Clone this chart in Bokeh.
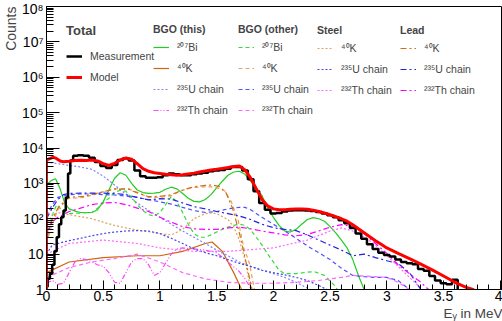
import numpy as np
from bokeh.plotting import figure
from bokeh.models import FixedTicker, NumeralTickFormatter, Legend, LegendItem, Title, Range1d
from bokeh.embed import file_html
from bokeh.resources import INLINE

# ---------------- data ----------------
meas_e = [0.00, 0.02, 0.04, 0.06, 0.08, 0.10, 0.12, 0.14, 0.16, 0.18, 0.20, 0.22, 0.25, 0.30, 0.35, 0.40,
          0.45, 0.50, 0.55, 0.60, 0.65, 0.70, 0.75, 0.80, 0.85, 0.90, 0.95, 1.00, 1.05, 1.10, 1.15, 1.20,
          1.25, 1.30, 1.35, 1.40, 1.45, 1.50, 1.55, 1.60, 1.65, 1.70, 1.75, 1.80, 1.85, 1.90, 1.95, 2.00,
          2.05, 2.10, 2.15, 2.20, 2.25, 2.30, 2.35, 2.40, 2.45, 2.50, 2.55, 2.60, 2.65, 2.70, 2.75, 2.80,
          2.85, 2.90, 2.95, 3.00, 3.05, 3.10, 3.15, 3.20, 3.25, 3.30, 3.35, 3.40, 3.45, 3.50, 3.55, 3.60,
          3.65, 3.70]
meas_c = [1.2, 2.0, 2.8, 5, 12, 30, 70, 110, 170, 400, 1900, 4400, 6000, 6200, 6000, 5300,
          4000, 3100, 2700, 3300, 4600, 5100, 4400, 2300, 1600, 1450, 1450, 1500, 1700, 1900, 1800, 1700,
          1700, 1800, 1900, 2000, 2200, 2300, 2400, 2600, 2900, 2900, 2300, 1300, 600, 280, 180, 140,
          145, 160, 170, 175, 175, 170, 165, 155, 140, 125, 110, 90, 75, 55, 38, 27,
          19, 14, 11, 9.5, 8.5, 7, 6, 5.5, 5.2, 3.8, 3.4, 2.4, 1.8, 1.5, 1.4, 1.9,
          0.5, 0.3]

model_e = [0.00, 0.00, 0.03, 0.06, 0.09, 0.12, 0.15, 0.20, 0.25, 0.30, 0.35, 0.40, 0.45, 0.50, 0.55, 0.60,
           0.65, 0.70, 0.75, 0.80, 0.85, 0.90, 0.95, 1.00, 1.05, 1.10, 1.15, 1.20, 1.25, 1.30, 1.35, 1.40,
           1.45, 1.50, 1.55, 1.60, 1.65, 1.70, 1.75, 1.80, 1.85, 1.90, 1.95, 2.00, 2.05, 2.10, 2.15, 2.20,
           2.25, 2.30, 2.35, 2.40, 2.45, 2.50, 2.55, 2.60, 2.65, 2.70, 2.75, 2.80, 2.85, 2.90, 2.95, 3.00,
           3.10, 3.20, 3.30, 3.40, 3.50, 3.60, 3.70, 3.76, 3.80]
model_c = [0.01, 4600, 5000, 5500, 5000, 4300, 4100, 4200, 4400, 4500, 4400, 4600, 4300, 3600, 3200, 3700,
           4600, 5200, 4800, 3600, 2600, 2200, 2000, 1900, 1800, 1750, 1700, 1750, 1850, 1950, 2100, 2250,
           2400, 2500, 2650, 2800, 3000, 3100, 2400, 1400, 700, 350, 230, 190, 180, 180, 185, 190,
           190, 185, 175, 160, 145, 130, 115, 100, 85, 68, 52, 40, 31, 24, 19, 15,
           10.5, 7.5, 5.2, 3.6, 2.4, 1.6, 1.15, 1.0, 0.8]

# BGO (this)
bgo_this_bi_e = [0.00, 0.04, 0.08, 0.12, 0.16, 0.20, 0.25, 0.30, 0.35, 0.40, 0.45, 0.50, 0.55, 0.60, 0.65, 0.70,
                 0.75, 0.80, 0.85, 0.90, 0.95, 1.00, 1.05, 1.10, 1.15, 1.20, 1.25, 1.30, 1.35, 1.40, 1.45, 1.50,
                 1.55, 1.60, 1.65, 1.70, 1.75, 1.80, 1.85, 1.90, 1.95, 2.00, 2.05, 2.10, 2.15, 2.20, 2.25, 2.30,
                 2.35, 2.40, 2.45, 2.50, 2.55, 2.60, 2.65, 2.70, 2.75, 2.80, 2.85]
bgo_this_bi_c = [900, 1200, 1350, 700, 280, 190, 165, 150, 150, 150, 180, 300, 650, 1400, 2000, 1700,
                 1000, 650, 550, 520, 530, 560, 680, 780, 700, 520, 380, 310, 300, 350, 480, 750,
                 1150, 1700, 2100, 2200, 1800, 1150, 700, 450, 200, 110, 65, 45, 42, 50, 70, 95,
                 108, 100, 85, 60, 40, 25, 15, 7, 2.5, 1.0, 0.4]

bgo_this_k_e = [0.00, 0.20, 0.50, 0.80, 1.00, 1.20, 1.40, 1.46, 1.55, 1.65, 1.72, 1.78]
bgo_this_k_c = [3, 6, 8, 9, 9, 12, 20, 22, 12, 3, 1.0, 0.4]

bgo_this_u_e = [0.00, 0.10, 0.20, 0.30, 0.40, 0.50, 0.60, 0.70, 0.80, 0.90, 1.00, 1.10, 1.20, 1.30, 1.40, 1.50,
                1.60, 1.70, 1.80, 1.90, 2.00, 2.10, 2.20, 2.30, 2.40]
bgo_this_u_c = [4000, 3600, 3200, 2900, 2500, 1600, 900, 500, 280, 170, 110, 70, 45, 30, 20, 13,
                9, 6, 4.5, 3.5, 2.8, 2.2, 1.6, 1.1, 0.7]

bgo_this_th_e = [0.00, 0.05, 0.10, 0.15, 0.20, 0.25, 0.30, 0.35, 0.40, 0.45, 0.50, 0.55, 0.60, 0.65, 0.70, 0.75,
                 0.80, 0.85, 0.90, 0.95, 1.00, 1.05, 1.10, 1.15, 1.20, 1.30, 1.40, 1.50, 1.60, 1.70, 1.75, 1.80,
                 1.85]
bgo_this_th_c = [1.5, 1.8, 1.4, 1.5, 3, 6, 7.5, 7, 6, 5, 4.5, 3, 1.6, 1.5, 3, 6,
                 7.5, 7.5, 5, 2.5, 3, 5.5, 10, 14, 15, 14, 13, 11, 6, 3.2, 2, 1.1,
                 0.5]

# BGO (other)
bgo_oth_bi_e = [0.00, 0.03, 0.06, 0.09, 0.12, 0.16, 0.20, 0.30, 0.40, 0.45, 0.50, 0.55, 0.60, 0.65, 0.70, 0.75,
                0.80, 0.85, 0.90, 0.95, 1.00, 1.05, 1.10, 1.15, 1.20, 1.25, 1.30, 1.35, 1.40, 1.45, 1.50, 1.55,
                1.60, 1.65, 1.70, 1.75, 1.80, 1.85, 1.90, 1.95, 2.00, 2.05, 2.10, 2.20, 2.30, 2.36, 2.45, 2.55,
                2.60]
bgo_oth_bi_c = [20, 60, 150, 250, 200, 150, 140, 145, 150, 200, 280, 380, 560, 640, 600, 400,
                250, 170, 130, 120, 150, 250, 430, 300, 150, 70, 38, 30, 30, 35, 42, 50,
                58, 65, 70, 65, 48, 30, 18, 10, 6, 3.5, 2.8, 2.8, 3.1, 3.2, 2.5, 1.2,
                0.6]

bgo_oth_k_e = [0.00, 0.04, 0.10, 0.19, 0.33, 0.48, 0.60, 0.72, 0.80, 0.90, 1.00, 1.10, 1.19, 1.28, 1.37, 1.45,
               1.51, 1.57, 1.63, 1.69, 1.74, 1.79, 1.83, 1.86]
bgo_oth_k_c = [20, 56, 180, 370, 400, 550, 710, 710, 560, 400, 400, 450, 620, 760, 800, 800,
               740, 620, 300, 90, 15, 5.4, 1.1, 0.4]

bgo_oth_u_e = [0.00, 0.05, 0.10, 0.20, 0.30, 0.40, 0.50, 0.60, 0.70, 0.80, 0.90, 1.00, 1.10, 1.20, 1.30, 1.40,
               1.50, 1.60, 1.70, 1.75, 1.80, 1.90, 2.00, 2.10, 2.20, 2.30, 2.40, 2.50, 2.60, 2.70, 2.80, 2.90,
               3.00, 3.10, 3.20, 3.25]
bgo_oth_u_c = [120, 250, 400, 480, 500, 500, 480, 470, 440, 400, 350, 300, 260, 210, 170, 150,
               160, 190, 210, 210, 180, 110, 70, 45, 28, 17, 11, 7, 4, 2.5, 2.3, 2.2,
               2.2, 1.8, 1.0, 0.5]

bgo_oth_th_e = [0.00, 0.10, 0.20, 0.40, 0.60, 0.80, 1.00, 1.20, 1.40, 1.60, 1.80, 2.00, 2.20, 2.40, 2.60, 2.70,
                2.80, 2.90, 3.00, 3.10, 3.20, 3.30]
bgo_oth_th_c = [2.2, 3.0, 4.2, 6, 7.5, 10, 6, 3, 2, 1.6, 1.5, 1.5, 1.6, 1.8, 2.2, 2.5,
                2.4, 2.3, 2.2, 1.6, 1.0, 0.5]

# Steel
steel_k_e = [0.00, 0.05, 0.10, 0.15, 0.20, 0.30, 0.40, 0.50, 0.60, 0.70, 0.80, 0.90, 1.00, 1.10, 1.20, 1.30,
             1.40, 1.45, 1.50, 1.60, 1.65, 1.70, 1.75, 1.80, 1.85]
steel_k_c = [60, 130, 150, 140, 130, 115, 100, 80, 65, 55, 48, 43, 38, 35, 50, 100,
             140, 145, 140, 95, 60, 25, 7, 1.0, 0.3]

steel_u_e = [0.00, 0.05, 0.10, 0.20, 0.30, 0.40, 0.50, 0.60, 0.70, 0.80, 0.90, 1.00, 1.10, 1.20, 1.30, 1.40,
             1.50, 1.60, 1.70, 1.80, 1.90, 2.00, 2.10, 2.20, 2.30, 2.40, 2.50]
steel_u_c = [10, 18, 20, 24, 28, 33, 38, 42, 45, 46, 45, 38, 28, 20, 14, 11,
             9, 7, 5.5, 4.5, 3.5, 3.0, 2.6, 2.2, 1.8, 1.3, 0.9]

steel_th_e = [0.00, 0.20, 0.50, 0.80, 1.00, 1.30, 1.60, 2.00, 2.30, 2.50, 2.60, 2.70, 2.80, 2.90, 3.00, 3.10,
              3.20, 3.30, 3.40]
steel_th_c = [10, 20, 25, 20, 15, 12, 12, 15, 25, 45, 55, 45, 30, 18, 9, 4.5,
              2.2, 1.1, 0.5]

# Lead
lead_k_e = [0.00, 0.04, 0.10, 0.19, 0.33, 0.48, 0.60, 0.72, 0.80, 0.90, 1.00, 1.10, 1.20, 1.30, 1.40, 1.46,
            1.52, 1.58, 1.64, 1.70, 1.75, 1.80, 1.84]
lead_k_c = [30, 80, 200, 400, 430, 560, 690, 690, 540, 420, 430, 480, 650, 800, 880, 900,
            820, 560, 200, 40, 8, 1.5, 0.4]

lead_u_e = [0.00, 0.05, 0.10, 0.15, 0.20, 0.30, 0.40, 0.50, 0.60, 0.70, 0.80, 0.90, 1.00, 1.10, 1.20, 1.30,
            1.40, 1.50, 1.60, 1.70, 1.80, 1.90, 2.00, 2.10, 2.20, 2.30, 2.40, 2.50, 2.60, 2.70, 2.80, 2.90,
            3.00, 3.10, 3.20, 3.30, 3.40]
lead_u_c = [100, 200, 350, 480, 520, 530, 530, 530, 520, 480, 400, 340, 370, 360, 280, 220,
            190, 160, 140, 120, 95, 70, 56, 50, 46, 35, 25, 18, 13, 9, 10, 8,
            6.5, 5.4, 3.0, 1.0, 0.4]

lead_th_e = [0.00, 0.05, 0.10, 0.20, 0.30, 0.40, 0.50, 0.60, 0.70, 0.80, 0.90, 1.00, 1.10, 1.20, 1.30, 1.40,
             1.50, 1.60, 1.70, 1.80, 1.90, 2.00, 2.10, 2.20, 2.30, 2.40, 2.50, 2.60, 2.70, 2.80, 2.90, 3.00,
             3.10, 3.20, 3.30, 3.40]
lead_th_c = [40, 80, 110, 160, 200, 250, 280, 290, 250, 200, 160, 110, 80, 60, 52, 50,
             50, 55, 58, 52, 45, 40, 35, 33, 36, 45, 58, 68, 60, 38, 20, 10.5,
             5, 2.8, 1.6, 0.8]

x_major = [0, 0.5, 1, 1.5, 2, 2.5, 3, 3.5, 4]
x_minor = [i / 10 for i in range(0, 41)]
y_major = [1, 10, 100, 1e3, 1e4, 1e5, 1e6, 1e7, 1e8]
y_labels = ["1", "10", "10²", "10³", "10⁴", "10⁵", "10⁶", "10⁷", "10⁸"]
y_minor = [m * 10 ** k for k in range(0, 8) for m in range(2, 10)]

# ---------------- figure ----------------
FONT = "Liberation Sans"
W, H = 502, 321
p = figure(width=W, height=H, output_backend="svg", toolbar_location=None,
           y_axis_type="log", x_range=Range1d(0, 4.02), y_range=Range1d(1, 1e8),
           min_border_left=45, min_border_right=0, min_border_top=6, min_border_bottom=32)
p.xgrid.visible = False
p.ygrid.visible = False
p.outline_line_color = "black"
p.outline_line_width = 1
p.background_fill_color = "white"
p.border_fill_color = "white"

p.xaxis.ticker = FixedTicker(ticks=x_major, minor_ticks=x_minor)
p.xaxis.formatter = NumeralTickFormatter(format="0.[0]")
p.yaxis.ticker = FixedTicker(ticks=y_major, minor_ticks=y_minor)
p.yaxis.major_label_overrides = {v: s for v, s in zip(y_major, y_labels)}
for ax in (p.xaxis[0], p.yaxis[0]):
    ax.axis_line_color = "black"
    ax.major_tick_line_color = "black"
    ax.minor_tick_line_color = "black"
    ax.major_tick_out = 0
    ax.minor_tick_out = 0
    ax.major_label_text_font = FONT
    ax.major_label_text_font_size = "14px"
    ax.major_label_text_color = "black"
p.xaxis.major_tick_in = 9
p.xaxis.minor_tick_in = 5
p.yaxis.major_tick_in = 13
p.yaxis.minor_tick_in = 7
p.xaxis.major_label_standoff = 1
p.yaxis.major_label_standoff = 3

def ln(x, y, color, dash="solid", width=1.2):
    return p.line(x, y, line_color=color, line_dash=dash, line_width=width)

DOT = "2 2"
DASH = "4 3"
DASHDOT = "6 3 2 3"
DASHDOTDOT = "5 2 1 2 1 2"

r_tbi = ln(bgo_this_bi_e, bgo_this_bi_c, "#22cc22")
r_tk = ln(bgo_this_k_e, bgo_this_k_c, "#cc6611")
r_tu = ln(bgo_this_u_e, bgo_this_u_c, "#8080ff", DOT)
r_tth = ln(bgo_this_th_e, bgo_this_th_c, "#ff44ff", DASHDOTDOT)
r_obi = ln(bgo_oth_bi_e, bgo_oth_bi_c, "#33dd33", DASH)
r_ok = ln(bgo_oth_k_e, bgo_oth_k_c, "#e8a060", DASH)
r_ou = ln(bgo_oth_u_e, bgo_oth_u_c, "#5050ff", DASH)
r_oth = ln(bgo_oth_th_e, bgo_oth_th_c, "#ff66ff", DASH)
r_sk = ln(steel_k_e, steel_k_c, "#e0a060", DOT)
r_su = ln(steel_u_e, steel_u_c, "#4444ee", DOT)
r_sth = ln(steel_th_e, steel_th_c, "#ff66ff", DOT)
r_lk = ln(lead_k_e, lead_k_c, "#d07010", DASHDOT)
r_lu = ln(lead_u_e, lead_u_c, "#2222dd", DASHDOT)
r_lth = ln(lead_th_e, lead_th_c, "#ff00ff", DASHDOT)

r_meas = p.step(meas_e, meas_c, mode="center", line_color="black", line_width=2.5)
r_model = p.line(model_e, model_c, line_color="red", line_width=3)

def make_legend(title, items, x, y, title_size="10.5px", standoff=2):
    lg = Legend(items=[LegendItem(label=l, renderers=[r]) for l, r in items],
                location=(x, y), title=title, orientation="vertical")
    lg.title_text_font = FONT
    lg.title_text_font_style = "bold"
    lg.title_text_font_size = title_size
    lg.title_standoff = standoff
    lg.label_text_font = FONT
    lg.label_text_font_size = "10.5px"
    lg.label_standoff = 8
    lg.glyph_width = 16
    lg.glyph_height = 20
    lg.label_height = 20
    lg.spacing = 1
    lg.padding = 0
    lg.margin = 0
    lg.border_line_alpha = 0
    lg.background_fill_alpha = 0
    p.add_layout(lg)
    return lg

make_legend("Total", [("Measurement", r_meas), ("Model", r_model)], 20, 202, "13px", 8)
make_legend("BGO (this)", [("²⁰⁷Bi", r_tbi), ("⁴⁰K", r_tk), ("²³⁵U chain", r_tu), ("²³²Th chain", r_tth)], 107, 169)
make_legend("BGO (other)", [("²⁰⁷Bi", r_obi), ("⁴⁰K", r_ok), ("²³⁵U chain", r_ou), ("²³²Th chain", r_oth)], 192, 169)
make_legend("Steel", [("⁴⁰K", r_sk), ("²³⁵U chain", r_su), ("²³²Th chain", r_sth)], 271, 189)
make_legend("Lead", [("⁴⁰K", r_lk), ("²³⁵U chain", r_lu), ("²³²Th chain", r_lth)], 354, 189)

# axis titles, right-aligned as in ROOT
p.add_layout(Title(text="Counts", align="right", text_font=FONT, text_font_size="14px",
                   text_font_style="normal", standoff=0, offset=0), "left")
p.add_layout(Title(text="Eᵧ in MeV", align="right", text_font=FONT, text_font_size="13.5px",
                   text_font_style="normal", standoff=0, offset=0), "below")

open("out.html", "w").write(file_html(p, INLINE))
